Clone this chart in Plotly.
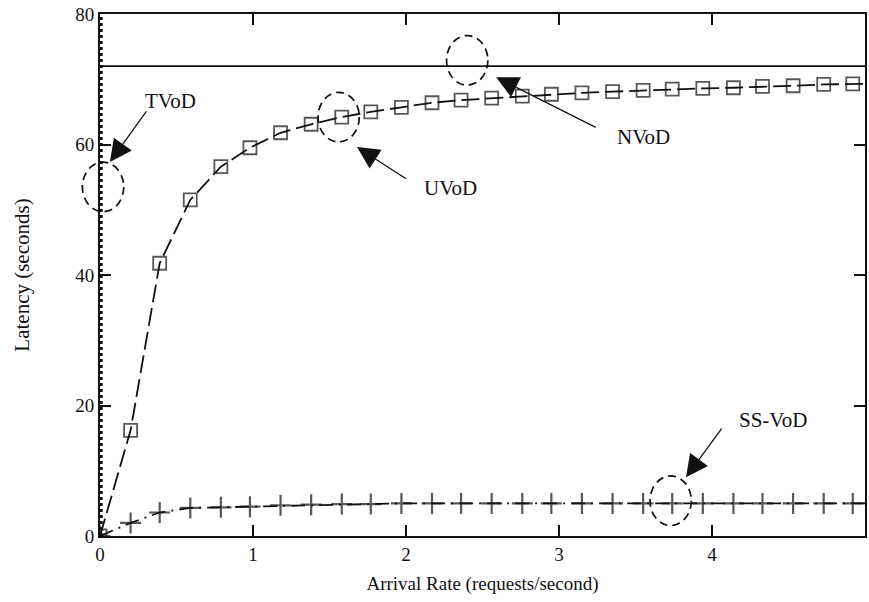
import plotly.graph_objects as go

# ---- data ----
rate = [0, 0.2, 0.39, 0.59, 0.79, 0.98, 1.18, 1.38, 1.58, 1.77, 1.97, 2.17, 2.36,
        2.56, 2.76, 2.95, 3.15, 3.35, 3.55, 3.74, 3.94, 4.14, 4.33, 4.53, 4.73, 4.92, 5.0]
uvod = [0, 16.2, 41.8, 51.5, 56.6, 59.5, 61.8, 63.1, 64.2, 65.0, 65.7, 66.4, 66.8,
        67.1, 67.4, 67.7, 67.9, 68.1, 68.3, 68.5, 68.6, 68.7, 68.9, 69.0, 69.2, 69.3, 69.3]
ssvod = [0, 2.0, 3.6, 4.3, 4.4, 4.5, 4.7, 4.8, 4.9, 4.9, 5.0, 5.0, 5.0,
         5.0, 5.0, 5.0, 5.0, 5.0, 5.0, 5.0, 5.0, 5.0, 5.0, 5.0, 5.0, 5.0, 5.0]
marker_shown = [1] * 26 + [0]          # last point only extends the line to the edge
nvod_x = [0, 5]
nvod = [72, 72]
tvod_x = [0.008, 0.008]
tvod = [0, 80]

x_ticks = [0, 1, 2, 3, 4, 5]
y_ticks = [0, 20, 40, 60, 80]
X_RANGE = [0, 5]
Y_RANGE = [0, 80]

# callouts: label, label position, arrow tail, arrow tip, circle centre
labels = ["TVoD", "UVoD", "NVoD", "SS-VoD"]
label_x = [0.46, 2.29, 3.55, 4.40]
label_y = [66.7, 53.3, 61.1, 17.8]
tail_x = [0.31, 2.01, 3.25, 4.07]
tail_y = [65.3, 54.6, 62.5, 16.7]
tip_x = [0.065, 1.68, 2.59, 3.83]
tip_y = [57.3, 59.6, 70.3, 9.0]
circ_x = [0.02, 1.56, 2.40, 3.73]
circ_y = [53.5, 64.2, 72.9, 5.4]
circ_rx = 0.135
circ_ry = 3.8

FONT = "Liberation Serif, Times New Roman, serif"
BLACK = "#111111"

fig = go.Figure()

fig.add_trace(go.Scatter(
    x=tvod_x, y=tvod, mode="lines", name="TVoD",
    line=dict(color=BLACK, width=3, dash="dot"), showlegend=False))

fig.add_trace(go.Scatter(
    x=nvod_x, y=nvod, mode="lines", name="NVoD",
    line=dict(color=BLACK, width=1.8), showlegend=False))

fig.add_trace(go.Scatter(
    x=rate, y=uvod, mode="lines+markers", name="UVoD",
    line=dict(color=BLACK, width=1.8, dash="18px,6px"),
    marker=dict(symbol="square-open", size=[13 * m for m in marker_shown],
                color=BLACK, line=dict(width=1.8, color=BLACK)),
    showlegend=False))

fig.add_trace(go.Scatter(
    x=rate, y=ssvod, mode="lines+markers", name="SS-VoD",
    line=dict(color=BLACK, width=1.8, dash="14px,6px,2px,6px"),
    marker=dict(symbol="cross-thin-open", size=[15 * m for m in marker_shown],
                color=BLACK, line=dict(width=2.2, color=BLACK)),
    showlegend=False))


def to_paper_x(v):
    return (v - X_RANGE[0]) / (X_RANGE[1] - X_RANGE[0])


def to_paper_y(v):
    return (v - Y_RANGE[0]) / (Y_RANGE[1] - Y_RANGE[0])


# circles in paper coordinates so they are not clipped at the axis
shapes = []
for cx, cy in zip(circ_x, circ_y):
    shapes.append(dict(type="circle", xref="paper", yref="paper",
                       x0=to_paper_x(cx - circ_rx), x1=to_paper_x(cx + circ_rx),
                       y0=to_paper_y(cy - circ_ry), y1=to_paper_y(cy + circ_ry),
                       line=dict(color=BLACK, width=1.7, dash="8px,5px")))

annotations = []
for lab, lx, ly in zip(labels, label_x, label_y):
    annotations.append(dict(x=lx, y=ly, xref="x", yref="y", text=lab,
                            showarrow=False,
                            font=dict(family=FONT, size=21, color=BLACK)))
for txx, tyy, px, py in zip(tail_x, tail_y, tip_x, tip_y):
    annotations.append(dict(x=px, y=py, ax=txx, ay=tyy, xref="x", yref="y",
                            axref="x", ayref="y", text="", showarrow=True,
                            arrowhead=2, arrowsize=3.4, arrowwidth=1.3,
                            arrowcolor=BLACK))

axis_common = dict(showgrid=False, zeroline=False, showline=True,
                   linecolor=BLACK, linewidth=2, mirror="ticks",
                   ticks="inside", ticklen=11, tickwidth=1.6, tickcolor=BLACK,
                   tickfont=dict(family=FONT, size=19, color=BLACK))

fig.update_layout(
    width=869, height=602,
    margin=dict(l=100, r=2, t=14, b=66),
    paper_bgcolor="white", plot_bgcolor="white",
    shapes=shapes, annotations=annotations,
    xaxis=dict(range=X_RANGE, tickvals=x_ticks,
               title=dict(text="Arrival Rate (requests/second)", standoff=13,
                          font=dict(family=FONT, size=19, color=BLACK)),
               **axis_common),
    yaxis=dict(range=Y_RANGE, tickvals=y_ticks,
               title=dict(text="Latency (seconds)", standoff=40,
                          font=dict(family=FONT, size=21, color=BLACK)),
               **axis_common),
)

fig.write_html("out.html")
